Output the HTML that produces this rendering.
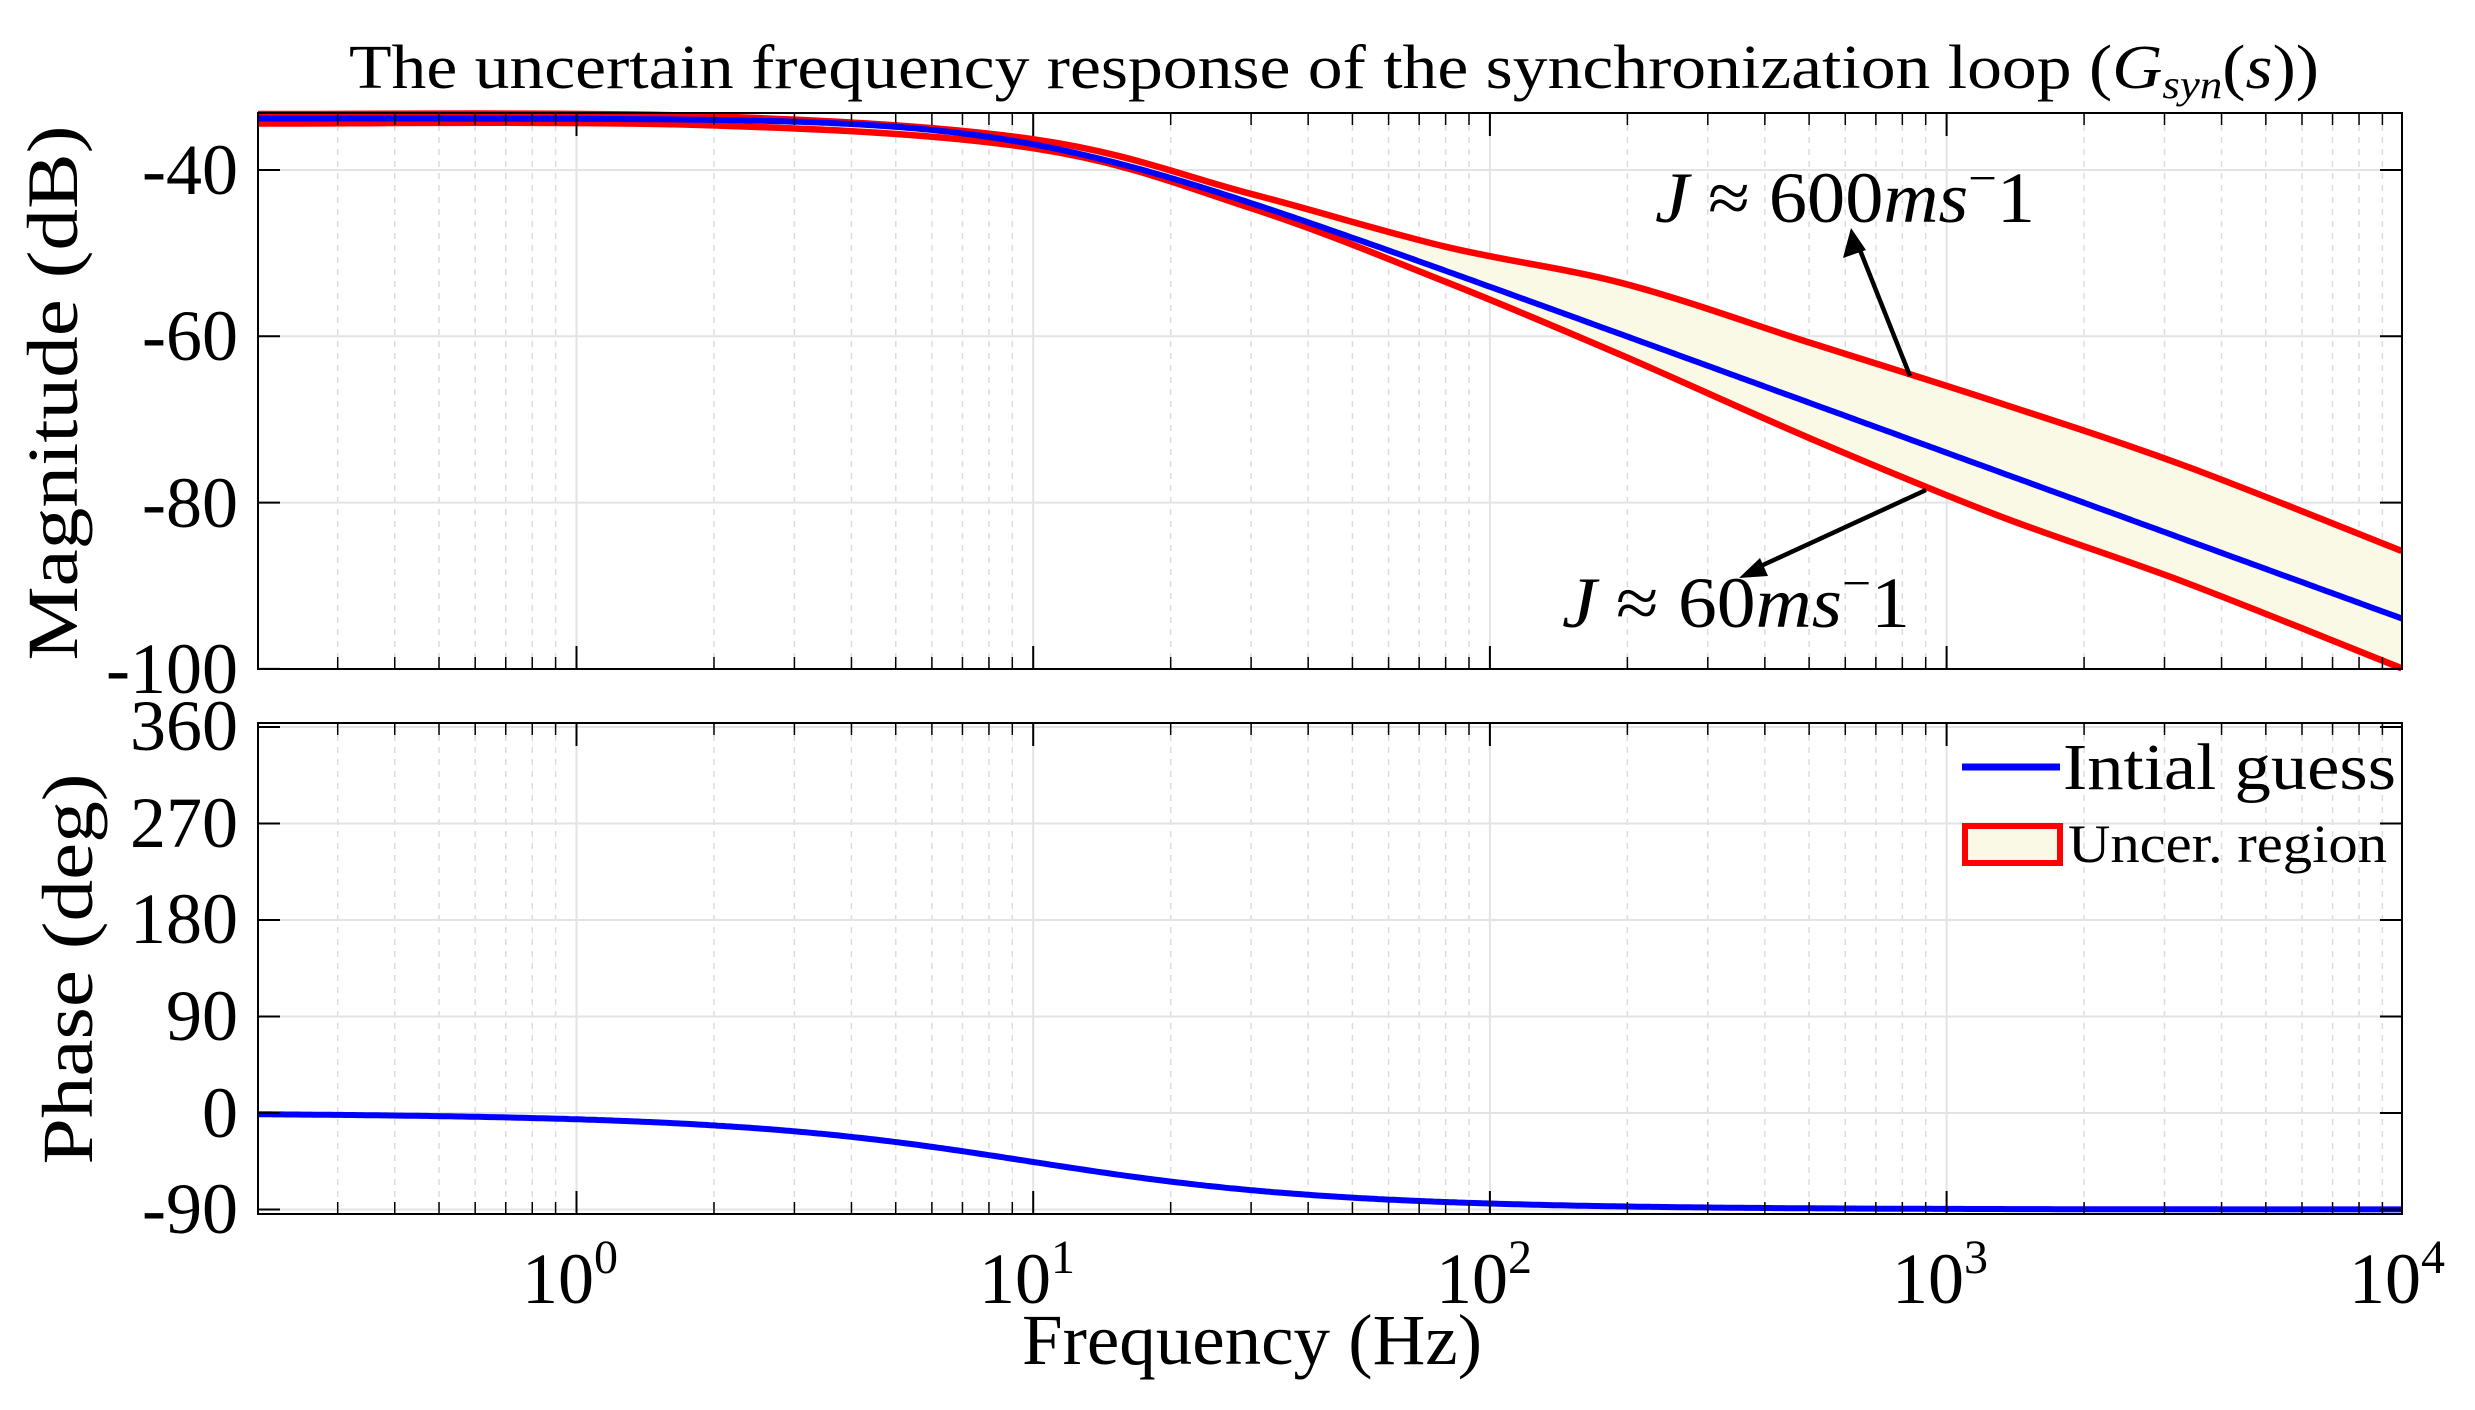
<!DOCTYPE html>
<html><head><meta charset="utf-8"><style>
html,body{margin:0;padding:0;background:#fff;}
svg{display:block;}
text{font-family:"Liberation Serif",serif;fill:#000;}
</style></head><body>
<svg id="s" xmlns="http://www.w3.org/2000/svg" width="2475" height="1410" viewBox="0 0 2475 1410">
<rect width="2475" height="1410" fill="#fff"/>
<g id="grid"></g>
<path id="fill" fill="#f9f9e6" stroke="none"/>
<path id="up" fill="none" stroke="#ff0000" stroke-width="6.5" stroke-linejoin="round"/>
<path id="lo" fill="none" stroke="#ff0000" stroke-width="6.5" stroke-linejoin="round"/>
<path id="blue" fill="none" stroke="#0000ff" stroke-width="6" stroke-linejoin="round"/>
<path id="ph" fill="none" stroke="#0000ff" stroke-width="6" stroke-linejoin="round"/>
<g id="axes"></g>

<text x="1334" y="88" font-size="62" text-anchor="middle" textLength="1970" lengthAdjust="spacingAndGlyphs">The uncertain frequency response of the synchronization loop (<tspan font-style="italic">G</tspan><tspan font-style="italic" font-size="40" dy="10">syn</tspan><tspan dy="-10">(</tspan><tspan font-style="italic">s</tspan>))</text>

<g font-size="72" text-anchor="end">
<text x="238" y="194">-40</text>
<text x="238" y="360">-60</text>
<text x="238" y="527">-80</text>
<text x="238" y="693">-100</text>
<text x="238" y="750">360</text>
<text x="238" y="847">270</text>
<text x="238" y="943">180</text>
<text x="238" y="1040">90</text>
<text x="238" y="1137">0</text>
<text x="238" y="1233">-90</text>
</g>
<g font-size="72" text-anchor="middle">
<text x="570" y="1303">10<tspan font-size="48" dy="-30">0</tspan></text>
<text x="1027" y="1303">10<tspan font-size="48" dy="-30">1</tspan></text>
<text x="1484" y="1303">10<tspan font-size="48" dy="-30">2</tspan></text>
<text x="1940" y="1303">10<tspan font-size="48" dy="-30">3</tspan></text>
<text x="2397" y="1303">10<tspan font-size="48" dy="-30">4</tspan></text>
<text x="1252" y="1364" textLength="460" lengthAdjust="spacingAndGlyphs">Frequency (Hz)</text>
</g>
<text font-size="72" text-anchor="middle" transform="translate(77,393) rotate(-90)" textLength="535" lengthAdjust="spacingAndGlyphs">Magnitude (dB)</text>
<text font-size="72" text-anchor="middle" transform="translate(92,969) rotate(-90)" textLength="391" lengthAdjust="spacingAndGlyphs">Phase (deg)</text>

<line x1="1962" y1="767" x2="2060" y2="767" stroke="#0000ff" stroke-width="7"/>
<text x="2063" y="789" font-size="66" textLength="333" lengthAdjust="spacingAndGlyphs">Intial guess</text>
<rect x="1965" y="826" width="95" height="37" fill="#f9f9e6" stroke="#ff0000" stroke-width="6"/>
<text x="2068" y="862" font-size="54" textLength="319" lengthAdjust="spacingAndGlyphs">Uncer. region</text>

<text x="1655" y="222" font-size="72" textLength="380" lengthAdjust="spacingAndGlyphs"><tspan font-style="italic">J</tspan> ≈ 600<tspan font-style="italic">ms</tspan><tspan font-size="48" dy="-28">−</tspan><tspan dy="28">1</tspan></text>
<text x="1562" y="627" font-size="72" textLength="348" lengthAdjust="spacingAndGlyphs"><tspan font-style="italic">J</tspan> ≈ 60<tspan font-style="italic">ms</tspan><tspan font-size="48" dy="-28">−</tspan><tspan dy="28">1</tspan></text>
<line x1="1910" y1="376" x2="1856" y2="240" stroke="#000" stroke-width="4.5"/>
<polygon points="1851,228 1843,258 1866,250" fill="#000"/>
<line x1="1926" y1="490" x2="1750" y2="571" stroke="#000" stroke-width="4.5"/>
<polygon points="1739,578 1760,558 1768,576" fill="#000"/>
</svg>
<script>
(function(){
var NS="http://www.w3.org/2000/svg";
var L=258,R=2402,X0=576.5,D=456.7;
var MT=113,MB=669,PT=723,PB=1214;
function fx(f){return X0+Math.log10(f)*D;}
function my(db){return 170+(-40-db)*166.3/20;}
function py(p){return 1113-p*96.5/90;}
var grid=document.getElementById('grid'),axes=document.getElementById('axes');
function ln(g,x1,y1,x2,y2,c,w,da){var e=document.createElementNS(NS,'line');e.setAttribute('x1',x1);e.setAttribute('y1',y1);e.setAttribute('x2',x2);e.setAttribute('y2',y2);e.setAttribute('stroke',c);e.setAttribute('stroke-width',w);if(da)e.setAttribute('stroke-dasharray',da);g.appendChild(e);}
var panels=[[MT,MB],[PT,PB]];
panels.forEach(function(p){
  for(var e=-1;e<4;e++){for(var k=1;k<10;k++){var f=k*Math.pow(10,e);var x=fx(f);if(x<L+1||x>R-1)continue;
    if(k==1){ln(grid,x,p[0],x,p[1],'#e3e3e3',2);ln(axes,x,p[1],x,p[1]-23,'#000',2);ln(axes,x,p[0],x,p[0]+23,'#000',2);}
    else{ln(grid,x,p[0],x,p[1],'#dcdcdc',1.5,'6,6');ln(axes,x,p[1],x,p[1]-12,'#000',1.5);ln(axes,x,p[0],x,p[0]+12,'#000',1.5);}
  }}
});
[-40,-60,-80,-100].forEach(function(d){var y=my(d);if(d>-100)ln(grid,L,y,R,y,'#e3e3e3',2);ln(axes,L,y,L+22,y,'#000',2);ln(axes,R,y,R-22,y,'#000',2);});
[360,270,180,90,0,-90].forEach(function(d){var y=py(d);ln(grid,L,y,R,y,'#e3e3e3',2);ln(axes,L,y,L+22,y,'#000',2);ln(axes,R,y,R-22,y,'#000',2);});
panels.forEach(function(p){var r=document.createElementNS(NS,'rect');r.setAttribute('x',L);r.setAttribute('y',p[0]);r.setAttribute('width',R-L);r.setAttribute('height',p[1]-p[0]);r.setAttribute('fill','none');r.setAttribute('stroke','#000');r.setAttribute('stroke-width',2);axes.appendChild(r);});
var fc=9.77,b='',ph='';
for(var x=L;x<=R;x+=4){var f=Math.pow(10,(x-X0)/D);var db=-33.8-10*Math.log10(1+(f/fc)*(f/fc));var p=-Math.atan(f/fc)*180/Math.PI;
 b+=(b?'L':'M')+x.toFixed(1)+','+my(db).toFixed(1);ph+=(ph?'L':'M')+x.toFixed(1)+','+py(p).toFixed(1);}
document.getElementById('blue').setAttribute('d',b);
document.getElementById('ph').setAttribute('d',ph);
var U=[[258,114],[700,116],[1033.7,139.3],[1251.5,194],[1445.4,246.7],[1624.4,283.7],[1810.9,343],[1997.5,402.3],[2184.1,465.5],[2401.7,551]];
var Lo=[[258,123.5],[700,125],[1033.7,148.3],[1251.5,208.3],[1445.4,281.7],[1624.4,356.4],[1810.9,438.7],[1997.5,515.3],[2184.1,582],[2401.7,668.3]];
function cr(P,start){var d=start?'M'+P[0][0]+','+P[0][1]:'L'+P[0][0]+','+P[0][1];
 for(var i=0;i<P.length-1;i++){var p0=P[Math.max(i-1,0)],p1=P[i],p2=P[i+1],p3=P[Math.min(i+2,P.length-1)];
  var c1=[p1[0]+(p2[0]-p0[0])/6,p1[1]+(p2[1]-p0[1])/6],c2=[p2[0]-(p3[0]-p1[0])/6,p2[1]-(p3[1]-p1[1])/6];
  d+='C'+c1[0].toFixed(1)+','+c1[1].toFixed(1)+' '+c2[0].toFixed(1)+','+c2[1].toFixed(1)+' '+p2[0]+','+p2[1];}
 return d;}
document.getElementById('up').setAttribute('d',cr(U,true));
document.getElementById('lo').setAttribute('d',cr(Lo,true));
document.getElementById('fill').setAttribute('d',cr(U,true)+cr(Lo.slice().reverse(),false)+'Z');
})();
</script>
</body></html>
